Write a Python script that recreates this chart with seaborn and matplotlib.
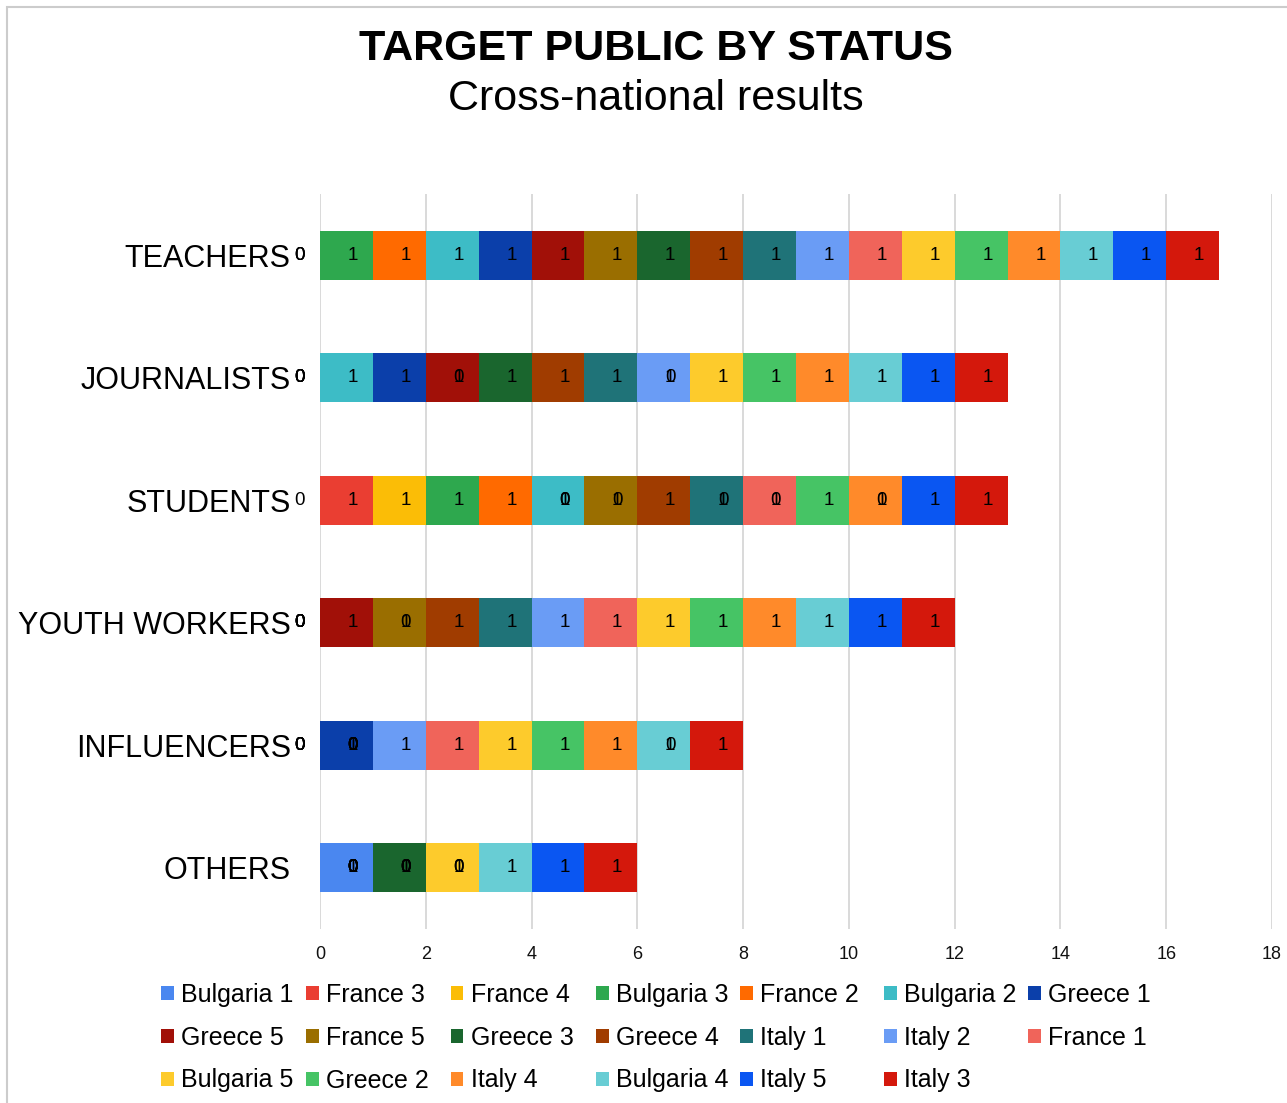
import numpy as np
import pandas as pd
import seaborn as sns
import matplotlib.pyplot as plt
from matplotlib.patches import Rectangle, Patch

# =============================================================================
# Data
# =============================================================================

categories = ["TEACHERS", "JOURNALISTS", "STUDENTS", "YOUTH WORKERS", "INFLUENCERS", "OTHERS"]

series_names = [
    "Bulgaria 1", "France 3", "France 4", "Bulgaria 3", "France 2", "Bulgaria 2", "Greece 1",
    "Greece 5", "France 5", "Greece 3", "Greece 4", "Italy 1", "Italy 2", "France 1",
    "Bulgaria 5", "Greece 2", "Italy 4", "Bulgaria 4", "Italy 5", "Italy 3",
]

series_colors = [
    "#4A87F0", "#EA3E32", "#FBBD06", "#2EA84E", "#FF6A00", "#3DBCC6", "#0B3FAA",
    "#A11008", "#9A6E00", "#1A662E", "#A03C00", "#1F7378", "#6A9CF5", "#F0645A",
    "#FDCB2C", "#46C465", "#FF8A2A", "#68CDD4", "#0A56F2", "#D4180C",
]

# values per status, in series order above
teachers      = [0, 0, 0, 1, 1, 1, 1, 1, 1, 1, 1, 1, 1, 1, 1, 1, 1, 1, 1, 1]
journalists   = [0, 0, 0, 0, 0, 1, 1, 1, 0, 1, 1, 1, 1, 0, 1, 1, 1, 1, 1, 1]
students      = [0, 1, 1, 1, 1, 1, 0, 0, 1, 0, 1, 1, 0, 1, 0, 1, 1, 0, 1, 1]
youth_workers = [0, 0, 0, 0, 0, 0, 0, 1, 1, 0, 1, 1, 1, 1, 1, 1, 1, 1, 1, 1]
influencers   = [0, 0, 0, 0, 0, 0, 1, 0, 0, 0, 0, 0, 1, 1, 1, 1, 1, 1, 0, 1]
others        = [1, 0, 0, 0, 0, 0, 0, 0, 0, 1, 0, 0, 0, 0, 1, 0, 0, 1, 1, 1]

x_ticks = [0, 2, 4, 6, 8, 10, 12, 14, 16, 18]

# =============================================================================
# Build table
# =============================================================================

values = pd.DataFrame(
    [teachers, journalists, students, youth_workers, influencers, others],
    index=categories,
    columns=series_names,
)
cum = values.cumsum(axis=1)

# =============================================================================
# Plot
# =============================================================================

sns.set_style("white")
plt.rcParams["font.family"] = ["Liberation Sans", "DejaVu Sans"]

W, H = 1287, 1103
fig = plt.figure(figsize=(W / 100, H / 100), dpi=100)
ax = fig.add_axes([320 / W, 1 - 929 / H, (1272 - 320) / W, (929 - 194) / H])

# stacked bars: draw cumulative totals from last series to first
for i in range(len(series_names) - 1, -1, -1):
    name = series_names[i]
    part = pd.DataFrame({"Status": categories, "cum": cum[name].values})
    sns.barplot(
        data=part,
        x="cum",
        y="Status",
        order=categories,
        orient="h",
        color=series_colors[i],
        width=0.4,
        errorbar=None,
        linewidth=0,
        edgecolor="none",
        saturation=1,
        ax=ax,
        zorder=2,
    )

# value labels (placed near the segment end)
for r, cat in enumerate(categories):
    for name in series_names:
        ax.text(
            cum.loc[cat, name] - 0.38, r, f"{values.loc[cat, name]:d}",
            ha="center", va="center", fontsize=13.5, color="black",
            clip_on=False, zorder=5,
        )

ax.set_xlim(0, 18)
ax.set_ylim(5.5, -0.5)
ax.set_xticks(x_ticks)
ax.set_xticklabels([str(t) for t in x_ticks])
ax.set_xlabel("")
ax.set_ylabel("")

ax.grid(axis="x", color="#d9d9d9", linewidth=1.4)
ax.grid(axis="y", visible=False)
ax.set_axisbelow(True)
for spine in ax.spines.values():
    spine.set_visible(False)

ax.tick_params(axis="y", length=0, pad=21, labelsize=22, labelcolor="black")
ax.tick_params(axis="x", length=0, pad=12, labelsize=13, labelcolor="#111111")

# titles
fig.text(656 / W, 1 - 49 / H, "TARGET PUBLIC BY STATUS", ha="center", va="center",
         fontsize=31, fontweight="bold", color="black")
fig.text(656 / W, 1 - 99 / H, "Cross-national results", ha="center", va="center",
         fontsize=31, color="black")

# legend: one legend per column, three rows each
col_x = [161, 306, 451, 596, 740, 884, 1028]
for j, x0 in enumerate(col_x):
    idx = [j, j + 7, j + 14]
    idx = [k for k in idx if k < len(series_names)]
    handles = [Patch(facecolor=series_colors[k], edgecolor="none") for k in idx]
    labels = [series_names[k] for k in idx]
    fig.legend(
        handles, labels,
        loc="upper left",
        bbox_to_anchor=(x0 / W, 1 - 983 / H),
        bbox_transform=fig.transFigure,
        frameon=False,
        fontsize=18,
        labelcolor="black",
        handlelength=0.5,
        handleheight=0.5,
        handletextpad=0.3,
        labelspacing=0.75,
        borderpad=0,
        borderaxespad=0,
    )

# outer chart frame
fig.add_artist(Rectangle((7 / W, -0.02), 1.1, 1 - 7 / H + 0.02,
                         transform=fig.transFigure, fill=False,
                         edgecolor="#cccccc", linewidth=1.5))

plt.savefig("out.png", dpi=100)
